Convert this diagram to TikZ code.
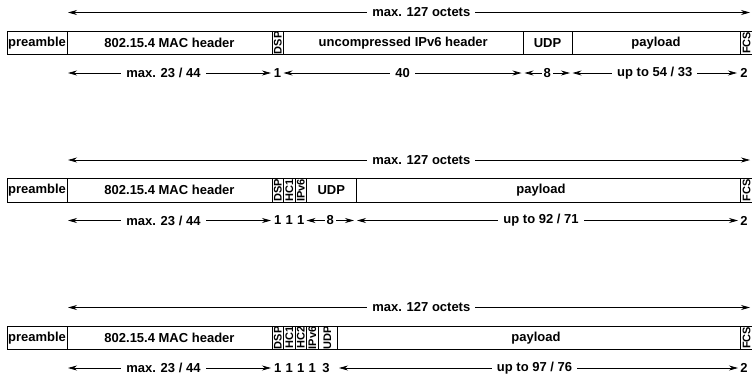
\documentclass[tikz,border=0pt]{standalone}
\usepackage{fontspec}
\setmainfont{Liberation Sans}
\usetikzlibrary{arrows.meta}
\newcommand{\bigf}{\fontsize{13}{15}\selectfont\bfseries}
\newcommand{\smallf}{\fontsize{11}{12}\selectfont\bfseries}
\tikzset{
  fld/.style={draw, line width=0.9pt, minimum height=23.5pt, inner sep=0pt, font=\bigf},
  vfld/.style={draw, line width=0.9pt, rotate=90, minimum width=23.5pt, inner sep=0pt, font=\smallf},
  dim/.style={{Stealth[length=9pt,width=5pt]}-{Stealth[length=9pt,width=5pt]}, line width=0.7pt},
  dlbl/.style={fill=white, inner xsep=5pt, inner ysep=1pt, font=\bigf},
  num/.style={inner sep=0pt, font=\bigf}
}
\begin{document}
\begin{tikzpicture}[x=1pt,y=-1pt]
\useasboundingbox (0,0) rectangle (752,376);
% ---------------- section 1 ----------------
\coordinate (t1l) at (68,12.5); \coordinate (t1r) at (750,12.5);
\draw[dim] (t1l) -- node[dlbl,pos=0.518] {max. 127 octets} (t1r);
\node[fld, minimum width=60pt] (pre1) at (37,42.75) {preamble};
\node[fld, minimum width=205pt] (mac1) at (169.5,42.75) {802.15.4 MAC header};
\node[vfld, minimum height=11.5pt] (dsp1) at (277.75,42.75) {DSP};
\node[fld, minimum width=239.5pt] (ip1) at (403.25,42.75) {uncompressed IPv6 header};
\node[fld, minimum width=49pt] (udp1) at (547.5,42.75) {UDP};
\node[fld, minimum width=168pt] (pay1) at (656,42.75) {payload};
\node[vfld, minimum height=13pt] (fcs1) at (746.5,42.75) {FCS};
\coordinate (b1a) at (68,73); \coordinate (b1b) at (271,73);
\draw[dim] (b1a) -- node[dlbl,pos=0.47] {max. 23 / 44} (b1b);
\node[num] (n1a) at (277.5,73) {1};
\coordinate (b1c) at (283.5,73); \coordinate (b1d) at (521.5,73);
\draw[dim] (b1c) -- node[dlbl] {40} (b1d);
\coordinate (b1e) at (524.5,73); \coordinate (b1f) at (570,73);
\draw[dim] (b1e) -- node[dlbl,inner xsep=2pt] {8} (b1f);
\coordinate (b1g) at (572.5,73); \coordinate (b1h) at (737,73);
\draw[dim] (b1g) -- node[dlbl] {up to 54 / 33} (b1h);
\node[num] (n1b) at (744,73) {2};
% ---------------- section 2 ----------------
\coordinate (t2l) at (68,160); \coordinate (t2r) at (750,160);
\draw[dim] (t2l) -- node[dlbl,pos=0.518] {max. 127 octets} (t2r);
\node[fld, minimum width=60pt] (pre2) at (37,190.25) {preamble};
\node[fld, minimum width=205pt] (mac2) at (169.5,190.25) {802.15.4 MAC header};
\node[vfld, minimum height=11.5pt] (dsp2) at (277.75,190.25) {DSP};
\node[vfld, minimum height=11.5pt] (hc12) at (289.25,190.25) {HC1};
\node[vfld, minimum height=11.5pt] (ipv2) at (300.75,190.25) {IPv6};
\node[fld, minimum width=49.5pt] (udp2) at (331.25,190.25) {UDP};
\node[fld, minimum width=384pt] (pay2) at (548,190.25) {};
\node[font=\bigf] (payt2) at (541,190.25) {payload};
\node[vfld, minimum height=13pt] (fcs2) at (746.5,190.25) {FCS};
\coordinate (b2a) at (68,220.5); \coordinate (b2b) at (271,220.5);
\draw[dim] (b2a) -- node[dlbl,pos=0.47] {max. 23 / 44} (b2b);
\node[num] (n2a) at (277.75,220.5) {1};
\node[num] (n2b) at (289.25,220.5) {1};
\node[num] (n2c) at (300.75,220.5) {1};
\coordinate (b2c) at (306.5,220.5); \coordinate (b2d) at (354,220.5);
\draw[dim] (b2c) -- node[dlbl,inner xsep=2pt] {8} (b2d);
\coordinate (b2e) at (357,220.5); \coordinate (b2f) at (738,220.5);
\draw[dim] (b2e) -- node[dlbl,pos=0.483] {up to 92 / 71} (b2f);
\node[num] (n2d) at (744,220.5) {2};
% ---------------- section 3 ----------------
\coordinate (t3l) at (68,307.5); \coordinate (t3r) at (750,307.5);
\draw[dim] (t3l) -- node[dlbl,pos=0.518] {max. 127 octets} (t3r);
\node[fld, minimum width=60pt] (pre3) at (37,337.75) {preamble};
\node[fld, minimum width=205pt] (mac3) at (169.5,337.75) {802.15.4 MAC header};
\node[vfld, minimum height=11.5pt] (dsp3) at (277.75,337.75) {DSP};
\node[vfld, minimum height=11.5pt] (hc13) at (289.25,337.75) {HC1};
\node[vfld, minimum height=11.5pt] (hc23) at (300.75,337.75) {HC2};
\node[vfld, minimum height=11.5pt] (ipv3) at (312.25,337.75) {IPv6};
\node[vfld, minimum height=19pt] (udp3) at (327.5,337.75) {UDP};
\node[fld, minimum width=403pt] (pay3) at (538.5,337.75) {};
\node[font=\bigf] (payt3) at (536,337.75) {payload};
\node[vfld, minimum height=13pt] (fcs3) at (746.5,337.75) {FCS};
\coordinate (b3a) at (68,368); \coordinate (b3b) at (271,368);
\draw[dim] (b3a) -- node[dlbl,pos=0.47] {max. 23 / 44} (b3b);
\node[num] (n3a) at (277.75,368) {1};
\node[num] (n3b) at (289.25,368) {1};
\node[num] (n3c) at (300.75,368) {1};
\node[num] (n3d) at (312.25,368) {1};
\node[num] (n3e) at (326,368) {3};
\coordinate (b3c) at (339,368); \coordinate (b3d) at (738,368);
\draw[dim] (b3c) -- node[dlbl,pos=0.49] {up to 97 / 76} (b3d);
\node[num] (n3f) at (744,368) {2};
\end{tikzpicture}
\end{document}
